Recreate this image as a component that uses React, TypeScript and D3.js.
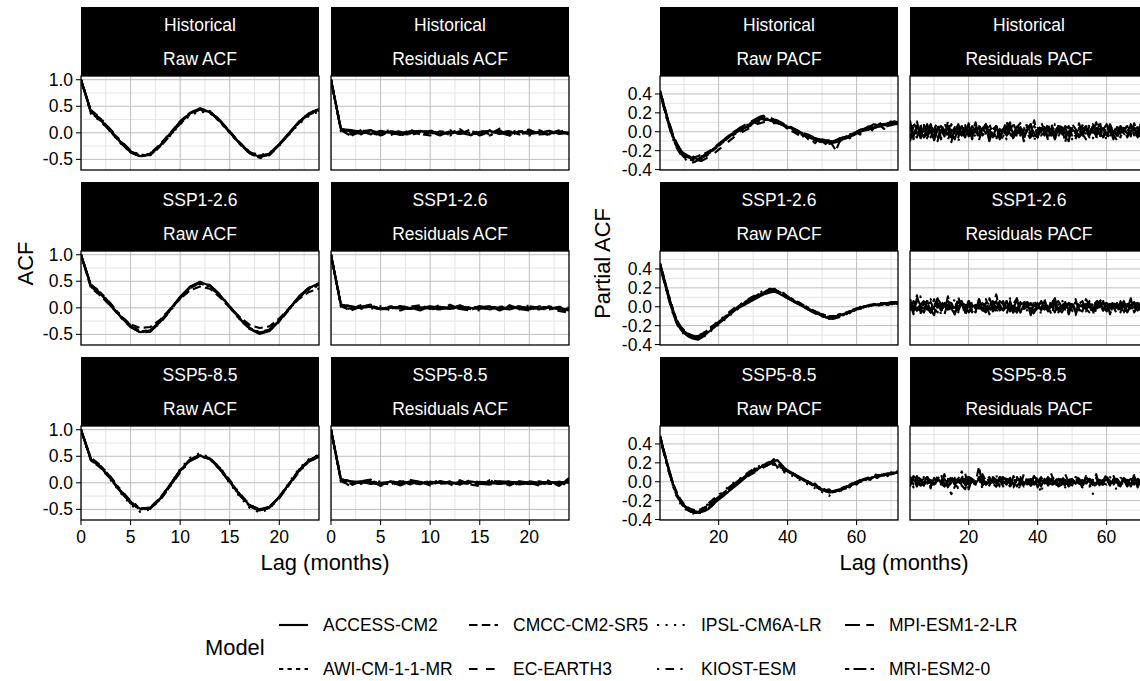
import React from "react";
import * as d3 from "d3";

// ---------- categories ----------
const MODELS = ["ACCESS-CM2", "AWI-CM-1-1-MR", "CMCC-CM2-SR5", "EC-EARTH3", "IPSL-CM6A-LR", "KIOST-ESM", "MPI-ESM1-2-LR", "MRI-ESM2-0"];
const LINETYPES = ["solid", "22", "42", "44", "13", "1343", "73", "2262"];
const SCENARIOS = ["Historical", "SSP1-2.6", "SSP5-8.5"];
const LAGS_ACF = [0, 1, 2, 3, 4, 5, 6, 7, 8, 9, 10, 11, 12, 13, 14, 15, 16, 17, 18, 19, 20, 21, 22, 23, 24];
const LAGS_PACF = [3, 4, 5, 6, 7, 8, 9, 10, 11, 12, 13, 14, 15, 16, 17, 18, 19, 20, 21, 22, 23, 24, 25, 26, 27, 28, 29, 30, 31, 32, 33, 34, 35, 36, 37, 38, 39, 40, 41, 42, 43, 44, 45, 46, 47, 48, 49, 50, 51, 52, 53, 54, 55, 56, 57, 58, 59, 60, 61, 62, 63, 64, 65, 66, 67, 68, 69, 70, 71, 72];
const ACF_X_TICKS = [0, 5, 10, 15, 20];
const ACF_X_MINOR = [2.5, 7.5, 12.5, 17.5, 22.5];
const ACF_Y_TICKS = [-0.5, 0, 0.5, 1];
const ACF_Y_MINOR = [-0.25, 0.25, 0.75];
const PACF_X_TICKS = [20, 40, 60];
const PACF_X_MINOR = [10, 30, 50, 70];
const PACF_Y_TICKS = [-0.4, -0.2, 0, 0.2, 0.4];
const PACF_Y_MINOR = [-0.3, -0.1, 0.1, 0.3, 0.5];

// ---------- values (hundredths), one row per model in MODELS order ----------
const HIST_RAW_ACF = [
  [100,40,24,3,-18,-36,-44,-40,-23,-2,20,37,44,39,22,1,-20,-38,-45,-39,-21,0,21,36,45],
  [100,42,26,5,-16,-34,-43,-41,-25,-4,18,36,43,38,21,0,-21,-39,-46,-40,-22,-1,20,35,44],
  [100,38,22,2,-19,-37,-45,-39,-21,0,22,38,45,40,24,3,-18,-36,-43,-40,-23,-2,19,34,42],
  [100,41,25,4,-17,-35,-43,-41,-24,-3,19,36,44,39,22,1,-20,-37,-45,-41,-23,-1,20,36,44],
  [100,36,21,1,-20,-37,-42,-38,-24,-5,16,33,40,37,21,0,-19,-36,-42,-38,-22,-3,17,32,40],
  [100,43,27,6,-15,-33,-42,-42,-26,-5,17,35,46,41,24,2,-19,-38,-48,-42,-24,-2,21,37,46],
  [100,39,23,3,-18,-36,-45,-40,-22,-1,21,38,46,40,23,2,-19,-37,-46,-40,-22,0,22,37,45],
  [100,40,25,4,-17,-35,-44,-41,-24,-3,19,37,45,40,23,1,-20,-38,-47,-41,-22,-1,21,36,44],
];
const SSP126_RAW_ACF = [
  [100,41,26,5,-17,-36,-46,-43,-26,-3,21,40,48,42,24,2,-20,-39,-47,-42,-24,-1,22,38,46],
  [100,43,28,7,-15,-34,-44,-42,-25,-4,19,38,46,41,23,1,-21,-40,-48,-43,-25,-2,20,36,44],
  [100,38,22,3,-16,-31,-38,-36,-22,-2,17,33,40,36,20,1,-17,-32,-38,-35,-20,-1,17,30,36],
  [100,42,27,6,-16,-35,-45,-43,-26,-3,20,39,47,42,24,2,-20,-39,-47,-42,-24,-2,21,37,45],
  [100,40,25,4,-18,-36,-45,-44,-27,-5,18,37,45,40,22,0,-21,-39,-46,-41,-23,-3,19,34,42],
  [100,44,29,8,-14,-33,-44,-44,-28,-6,18,38,47,43,25,3,-19,-38,-48,-44,-26,-3,20,37,46],
  [100,41,26,5,-17,-36,-47,-45,-27,-4,20,39,49,43,25,2,-21,-40,-49,-44,-25,-2,21,38,47],
  [100,40,25,4,-17,-35,-45,-42,-25,-3,20,38,46,41,23,1,-20,-38,-46,-41,-23,-1,20,36,44],
];
const SSP585_RAW_ACF = [
  [100,44,30,8,-16,-37,-49,-47,-29,-4,23,43,51,45,26,2,-22,-42,-50,-45,-26,-2,24,42,50],
  [100,46,32,10,-14,-35,-48,-48,-31,-6,21,42,50,46,28,4,-21,-42,-51,-47,-28,-3,22,40,49],
  [100,42,28,7,-17,-38,-50,-46,-28,-3,24,44,52,45,25,1,-23,-43,-52,-46,-26,-1,25,43,51],
  [100,45,31,9,-15,-36,-48,-47,-30,-5,22,42,50,45,27,3,-22,-42,-50,-46,-27,-2,23,41,49],
  [100,43,28,5,-19,-41,-55,-50,-30,-3,26,47,56,47,25,-1,-26,-47,-56,-49,-27,1,27,45,53],
  [100,47,33,11,-13,-34,-47,-49,-32,-7,20,41,50,46,29,5,-20,-41,-51,-48,-29,-4,21,40,49],
  [100,43,29,7,-17,-38,-51,-48,-29,-3,24,44,53,46,26,2,-23,-44,-53,-47,-27,-1,24,43,52],
  [100,44,30,8,-16,-37,-49,-47,-29,-4,23,43,51,45,26,2,-22,-42,-51,-46,-26,-2,23,42,50],
];
const HIST_RES_ACF = [
  [100,7,5,2,-2,4,0,-4,2,4,0,-2,2,0,-4,2,4,-2,0,2,-2,0,4,-2,0],
  [100,9,-3,5,0,-5,3,2,-2,0,5,-3,2,-2,3,0,-5,2,3,-2,0,5,-3,2,-2],
  [100,5,-6,3,5,-5,2,-3,6,-2,-5,3,0,7,-6,5,-3,8,-5,2,6,-3,-2,5,-3],
  [100,6,4,-2,4,0,-4,2,0,-2,4,2,-4,0,2,-2,0,4,-2,2,0,-2,4,0,2],
  [100,3,-5,6,-3,2,5,-6,3,0,-3,5,-5,2,3,-6,5,-2,0,6,-5,3,-3,2,5],
  [100,8,2,-3,5,-2,0,3,-5,2,0,-3,5,-2,2,-3,3,0,-5,3,2,-2,0,3,-3],
  [100,7,-2,0,3,-3,5,-2,-3,3,2,-5,3,-2,6,-5,2,5,-6,3,-2,2,-5,3,0],
  [100,6,0,3,-2,2,-2,0,3,-3,2,0,-2,3,0,-2,2,0,3,-3,2,0,-2,2,0],
];
const SSP126_RES_ACF = [
  [100,5,3,0,2,-2,0,2,-2,0,3,0,-2,2,0,-2,2,0,-3,2,0,-2,2,-3,-5],
  [100,7,-2,5,2,-3,0,3,-2,2,-3,0,3,-2,2,0,-3,2,3,-2,0,2,-3,0,-2],
  [100,3,-5,2,6,-3,3,-5,2,5,-2,-3,6,-2,-5,3,2,-3,5,-2,-5,3,0,-6,-9],
  [100,6,2,3,0,-2,3,-2,0,2,0,-2,2,0,-2,3,0,-2,2,0,-3,2,0,-2,-3],
  [100,2,-3,5,-2,3,-5,2,3,-3,0,5,-3,2,-2,-5,3,0,2,-3,5,-2,-3,2,-2],
  [100,8,3,-2,3,0,-2,3,-3,0,2,-2,0,3,-2,2,-3,0,2,-2,3,0,-2,2,0],
  [100,6,-3,2,5,-2,-3,3,0,-5,3,2,-2,5,-3,0,3,-5,2,3,-2,-3,3,-2,-3],
  [100,5,2,0,3,-2,2,0,-2,2,0,-2,3,0,-2,2,0,-2,2,0,-2,2,-2,0,-2],
];
const SSP585_RES_ACF = [
  [100,6,3,2,-2,0,2,-2,3,0,-2,2,0,-2,3,0,2,-2,0,2,-2,0,2,0,3],
  [100,8,-2,3,2,-5,2,3,-3,0,3,-2,2,-3,0,3,-2,2,-3,2,0,-3,2,-2,5],
  [100,3,-5,3,6,-6,3,-3,5,2,-5,3,-2,5,-3,-6,5,2,-5,3,0,-5,3,-6,9],
  [100,7,2,0,3,-2,0,2,-2,2,0,-2,3,0,-2,2,0,-2,2,0,-2,2,0,-2,2],
  [100,2,-6,5,-2,3,-5,2,5,-3,0,5,-5,3,-2,-3,5,-2,3,-5,2,-3,5,-2,-3],
  [100,7,3,-2,2,0,-3,3,0,-2,2,0,-2,3,-2,2,-3,0,2,-2,3,0,-2,2,0],
  [100,5,-2,2,5,-3,2,-5,3,2,-3,3,0,-3,5,-2,-3,3,2,-3,0,3,-2,-3,2],
  [100,6,2,0,2,-2,0,2,0,-2,2,0,-2,2,0,-2,0,2,-2,0,2,-2,0,2,0],
];

const HIST_RAW_PACF = [
  [42,29,16,4,-7,-15,-20,-23,-25,-27,-28,-29,-28,-26,-23,-20,-17,-14,-11,-8,-5,-3,-1,1,3,5,7,9,11,13,14,13,12,11,10,9,7,5,4,2,0,-2,-4,-5,-6,-7,-8,-9,-10,-10,-11,-10,-9,-8,-7,-5,-4,-2,0,1,2,3,4,5,6,7,7,8,8,9],
  [44,31,17,5,-6,-14,-19,-24,-27,-29,-30,-31,-30,-27,-24,-21,-18,-15,-12,-9,-6,-4,-2,0,2,4,6,8,10,12,13,12,13,10,9,8,6,5,2,1,-1,-3,-5,-6,-7,-9,-8,-10,-11,-12,-10,-9,-10,-7,-6,-4,-3,-1,1,2,3,5,4,6,7,8,9,8,10,9],
  [41,28,14,2,-9,-17,-22,-25,-26,-25,-27,-26,-24,-23,-21,-19,-16,-13,-10,-7,-4,-2,0,3,5,7,8,10,12,15,16,14,12,10,9,8,6,3,1,-1,-3,-6,-4,-8,-9,-12,-7,-10,-13,-9,-14,-20,-11,-8,-5,-7,-3,-1,-3,2,5,-1,4,10,6,3,8,11,7,9],
  [43,30,17,6,-5,-13,-19,-23,-26,-28,-29,-30,-31,-29,-27,-25,-22,-19,-16,-13,-10,-7,-4,-2,0,2,4,6,8,9,10,11,10,9,9,8,7,6,4,3,1,0,-2,-3,-5,-6,-7,-8,-9,-9,-10,-9,-8,-7,-5,-4,-3,-1,0,1,2,3,4,5,5,6,6,7,8,8],
  [42,29,15,3,-8,-16,-21,-24,-26,-27,-27,-27,-26,-25,-23,-21,-18,-15,-12,-9,-6,-3,0,2,4,6,8,10,12,13,14,14,13,12,11,9,8,6,4,2,0,-2,-3,-5,-6,-7,-8,-9,-9,-10,-10,-9,-8,-7,-6,-5,-3,-2,0,1,2,3,4,5,6,6,7,7,8,8],
  [40,27,13,1,-10,-18,-24,-28,-31,-33,-32,-30,-28,-25,-22,-20,-17,-14,-11,-8,-5,-2,1,3,5,7,9,11,13,15,16,15,14,12,11,9,7,6,4,1,-1,-3,-5,-6,-8,-9,-10,-11,-12,-11,-10,-9,-7,-6,-4,-3,-1,0,2,3,4,5,6,7,8,8,9,9,10,10],
  [43,30,16,4,-7,-15,-21,-25,-27,-28,-29,-28,-27,-25,-22,-19,-16,-13,-10,-7,-4,-1,1,4,6,8,10,12,14,16,17,16,15,13,12,10,8,6,5,3,1,-1,-3,-5,-7,-8,-10,-11,-12,-13,-12,-11,-10,-8,-6,-4,-2,0,2,3,5,6,8,7,9,10,9,10,11,10],
  [42,29,15,3,-8,-17,-23,-27,-29,-30,-30,-29,-27,-24,-22,-19,-17,-14,-11,-8,-5,-3,-1,1,3,5,6,8,9,11,12,13,12,11,10,9,7,6,4,2,1,-1,-2,-4,-5,-7,-8,-9,-10,-11,-10,-9,-8,-6,-5,-3,-2,0,1,3,4,5,6,7,7,8,8,9,9,9],
];
const SSP126_RAW_PACF = [
  [44,30,16,3,-9,-18,-24,-28,-31,-33,-34,-35,-33,-30,-27,-24,-21,-18,-15,-12,-9,-6,-3,-1,1,3,5,7,9,11,13,14,15,16,15,13,11,9,7,5,3,1,-1,-3,-5,-7,-8,-10,-11,-12,-12,-11,-10,-8,-7,-5,-4,-2,-1,0,1,1,2,2,3,3,3,4,4,4],
  [46,33,19,6,-6,-15,-21,-25,-28,-30,-31,-31,-30,-28,-25,-22,-19,-16,-13,-10,-7,-4,-1,1,3,6,8,10,12,13,15,16,17,18,17,15,13,11,9,7,5,3,1,-1,-3,-5,-7,-8,-9,-10,-10,-9,-8,-7,-6,-5,-3,-2,-1,0,1,2,2,1,2,3,2,3,4,3],
  [45,31,17,4,-8,-17,-23,-27,-29,-30,-31,-30,-29,-27,-24,-21,-19,-16,-13,-11,-8,-5,-2,0,3,5,8,10,11,14,15,17,19,20,16,15,12,11,7,6,3,2,-1,-3,-4,-7,-6,-10,-9,-13,-11,-12,-8,-9,-5,-7,-3,-4,0,-1,2,1,3,2,4,3,2,4,3,5],
  [45,32,18,5,-7,-16,-22,-26,-29,-31,-32,-32,-31,-29,-26,-23,-20,-17,-14,-11,-8,-5,-2,0,2,4,7,9,11,13,15,16,17,19,18,16,14,11,9,7,5,3,1,-1,-3,-5,-7,-9,-10,-11,-12,-11,-10,-8,-7,-5,-4,-3,-1,0,0,1,2,2,3,3,4,3,4,4],
  [44,31,17,4,-8,-17,-23,-27,-30,-32,-33,-34,-33,-31,-28,-25,-22,-19,-16,-13,-10,-7,-4,-1,1,3,5,8,10,12,13,15,16,17,16,14,12,10,8,6,4,2,0,-2,-4,-6,-8,-9,-11,-12,-12,-11,-10,-9,-7,-6,-4,-3,-2,-1,0,1,2,2,3,3,3,4,4,5],
  [43,29,15,2,-10,-19,-25,-29,-31,-32,-32,-31,-29,-27,-24,-21,-18,-15,-12,-9,-6,-3,0,2,4,6,9,11,13,15,17,18,19,18,16,14,12,10,8,6,4,2,0,-2,-4,-6,-8,-9,-10,-11,-12,-12,-11,-9,-8,-6,-5,-3,-2,-1,0,1,1,2,2,3,3,3,2,3],
  [46,33,19,6,-6,-15,-21,-26,-29,-31,-32,-33,-32,-29,-26,-23,-20,-17,-14,-11,-8,-5,-2,1,3,5,7,10,12,14,15,17,18,17,15,13,11,9,7,5,3,1,-1,-3,-5,-7,-8,-10,-11,-12,-13,-12,-11,-9,-7,-6,-4,-3,-1,0,1,2,2,3,3,4,4,5,5,5],
  [45,32,18,5,-7,-16,-22,-26,-28,-30,-31,-31,-30,-28,-26,-23,-20,-17,-14,-11,-8,-5,-3,0,2,4,6,9,11,13,14,15,16,17,16,14,12,10,8,6,4,2,0,-2,-4,-5,-7,-8,-9,-10,-10,-10,-9,-8,-6,-5,-3,-2,-1,0,1,1,2,2,2,3,3,3,3,3],
];
const SSP585_RAW_PACF = [
  [48,34,20,7,-5,-14,-20,-25,-28,-30,-31,-32,-32,-31,-29,-26,-22,-19,-16,-13,-10,-7,-4,-1,2,5,8,10,13,15,17,18,19,21,23,19,15,12,10,8,6,4,2,0,-2,-4,-6,-8,-9,-10,-11,-10,-9,-7,-6,-4,-3,-1,0,2,3,4,5,6,6,7,8,8,9,10],
  [47,33,19,6,-6,-15,-21,-26,-29,-31,-33,-33,-32,-30,-27,-24,-21,-18,-15,-12,-9,-6,-3,0,3,6,8,11,13,15,16,17,18,18,17,15,13,11,9,7,5,3,1,-1,-3,-5,-7,-8,-10,-11,-11,-10,-9,-7,-6,-4,-2,-1,1,2,3,4,5,6,7,7,8,9,9,10],
  [48,35,21,8,-4,-13,-19,-24,-27,-29,-30,-30,-29,-27,-25,-22,-19,-16,-14,-10,-8,-4,-2,1,3,6,8,11,12,15,16,19,17,20,16,15,11,12,8,7,4,5,1,0,-3,-2,-6,-5,-9,-8,-11,-9,-8,-10,-5,-6,-2,-3,1,0,3,2,6,4,7,9,6,10,8,12],
  [49,35,21,8,-4,-13,-20,-25,-29,-31,-32,-33,-33,-31,-28,-25,-22,-19,-16,-13,-10,-7,-4,-1,2,4,7,9,11,13,15,17,19,20,19,17,14,12,10,8,6,4,2,0,-2,-4,-6,-8,-9,-11,-12,-11,-10,-8,-7,-5,-3,-2,0,1,3,4,5,6,7,8,8,9,10,11],
  [47,32,18,5,-7,-17,-24,-28,-31,-33,-34,-32,-30,-27,-23,-20,-17,-14,-11,-8,-5,-2,0,3,5,8,10,13,15,16,18,17,19,16,15,13,10,9,7,5,3,1,-1,-3,-5,-7,-9,-11,-13,-15,-12,-10,-8,-6,-5,-3,-1,0,2,3,4,5,7,8,9,8,10,9,11,12],
  [46,32,18,5,-7,-16,-22,-27,-30,-32,-32,-31,-29,-26,-23,-20,-17,-14,-12,-9,-6,-3,0,2,5,8,11,13,15,17,19,20,21,22,20,17,14,12,9,7,5,3,1,-1,-3,-5,-7,-9,-10,-11,-11,-10,-8,-7,-5,-4,-2,-1,1,2,3,4,5,6,7,8,8,9,9,10],
  [48,34,20,7,-5,-14,-21,-26,-29,-31,-32,-32,-31,-29,-26,-23,-20,-17,-14,-11,-8,-5,-2,1,4,7,10,12,14,16,18,19,20,24,20,16,13,11,9,7,5,3,1,-1,-3,-5,-7,-9,-10,-11,-12,-10,-9,-7,-5,-4,-2,0,1,3,4,5,6,7,7,8,9,9,10,10],
  [47,33,19,6,-6,-15,-22,-27,-30,-32,-33,-32,-30,-28,-25,-22,-19,-16,-13,-10,-7,-4,-1,2,4,7,9,11,13,15,17,18,19,19,18,16,13,11,9,7,5,3,1,-1,-3,-5,-7,-8,-9,-10,-10,-9,-8,-6,-5,-3,-2,0,1,2,3,4,5,6,7,7,8,8,9,9],
];
const HIST_RES_PACF = [
  [8,-4,6,2,-6,4,0,-8,2,6,-2,4,-6,0,8,-4,2,-2,6,0,-4,4,-2,2,-6,4,0,2,-4,6,-2,0,4,-4,2,6,-2,-6,4,0,2,-4,0,6,-2,4,-4,2,0,-6,4,2,-2,6,-4,0,4,-2,2,0,-4,6,2,-2,0,4,-2,2,-4,4],
  [-6,10,2,-8,4,-2,6,0,-10,4,2,-4,8,-2,-6,6,0,4,-8,2,6,-4,0,8,-2,-6,4,2,-4,0,10,-6,2,4,-2,-8,6,0,2,-4,4,8,-6,0,2,-2,6,-4,-8,4,0,2,-6,8,-2,4,0,-4,6,2,-2,-6,4,0,8,-4,2,-2,4,0],
  [12,-8,3,9,-6,-2,8,-9,5,2,-5,11,-3,-8,6,0,-6,9,-2,5,-9,3,8,-5,0,6,-8,2,11,-3,-6,5,9,-8,3,-2,12,-6,0,5,-9,8,-3,2,6,-11,5,3,-5,9,-2,-8,6,3,-5,11,-6,0,8,-3,-9,5,2,6,-5,9,-2,-6,3,5],
  [-8,-2,4,-6,0,6,-4,2,-10,0,4,-2,-6,2,0,-4,6,-8,2,-2,4,-6,0,2,-4,-8,2,6,-2,0,-6,4,-4,2,8,-2,-6,0,4,-4,2,-2,-8,4,0,6,-4,2,-2,-6,0,4,-4,2,6,-2,0,-6,2,4,-4,0,2,-6,4,-2,0,4,-4,2],
  [4,10,-5,0,7,-8,3,5,-2,-7,8,2,-3,5,-10,3,7,-2,0,-5,8,-3,2,10,-7,0,3,-5,7,2,-8,5,0,-3,10,-2,-10,7,2,-3,5,-7,8,0,-5,3,7,-8,2,5,-3,0,8,-7,3,-2,5,-10,2,7,-3,0,5,-5,8,2,-7,3,0,5],
  [5,-5,8,-3,2,-7,7,3,-5,0,10,-3,2,-8,5,3,-2,7,-5,0,-3,8,2,-7,3,5,-3,0,-8,7,2,-2,5,-5,3,8,-7,2,0,5,-3,-2,7,-5,3,0,-8,5,2,-3,7,-2,0,5,-7,3,2,-3,8,-2,-5,3,0,7,-3,2,5,-5,0,3],
  [-10,6,11,-5,-2,8,-6,3,10,-8,0,5,-11,6,2,-3,8,-5,-2,10,-6,3,5,-10,2,6,-3,-8,5,10,-5,-2,6,-10,3,8,-3,-6,10,2,-5,3,-8,6,5,-2,-10,8,3,-5,2,6,-6,0,10,-3,-5,6,2,-8,5,3,-2,-6,8,0,-3,10,-5,2],
  [2,-2,-6,4,8,-4,0,6,-6,2,4,-8,0,4,-2,6,-4,2,-6,4,0,-2,8,-4,2,6,-6,0,4,-2,-4,8,-2,0,6,-6,2,4,-4,0,8,-2,-4,6,2,-6,0,4,-2,2,-4,6,0,-2,4,-6,2,8,-4,0,2,-2,6,-4,0,4,-6,2,4,-2],
];
const SSP126_RES_PACF = [
  [4,0,-4,2,6,-2,-6,0,4,-4,2,6,-2,0,-4,4,2,-6,0,2,-2,4,-4,0,6,-2,2,-4,0,4,-2,-6,2,4,0,-4,2,-2,6,0,-4,2,4,-2,-6,0,4,2,-4,0,2,-2,4,-4,0,6,-2,-4,2,0,4,-2,0,-6,2,4,-2,0,-4,2],
  [-4,6,2,-8,4,0,-6,8,-2,2,6,-4,0,-8,4,2,-2,6,-6,0,4,-4,8,-2,-6,2,0,4,-4,6,-8,2,4,-2,0,-6,6,2,-4,4,0,-8,2,6,-2,4,-6,0,8,-4,2,-2,-6,4,0,6,-4,2,-8,4,0,-2,6,-4,2,0,-6,4,-2,0],
  [8,-4,12,-5,3,6,-6,1,9,-3,-8,5,4,-4,10,-1,-5,6,0,-6,8,-3,4,-8,1,13,-4,-1,6,-5,3,9,-6,0,5,-3,-8,4,6,-1,-5,8,3,-6,4,-1,5,-4,-9,3,6,-3,1,-5,8,0,-4,5,-8,3,4,-3,6,-5,1,-1,4,-6,0,-4],
  [0,-5,3,-2,-6,2,5,-3,0,3,-5,2,-2,5,-3,0,-6,3,2,-2,0,5,-5,-2,3,0,-3,2,6,-5,0,-2,3,-3,2,5,-6,0,2,-3,3,-2,-5,2,0,3,-3,-2,5,0,-5,2,3,-3,-2,0,5,-5,2,-2,0,3,-6,2,-3,5,-2,-3,-7,-10],
  [8,-3,5,11,-6,2,-5,8,3,-8,5,0,-3,9,-6,3,2,-8,6,-2,5,-5,0,8,-3,-6,5,2,-5,9,0,-6,3,8,-5,2,-2,6,-8,3,0,5,-6,2,8,-3,-2,5,-8,3,6,-5,0,3,-6,8,2,-3,5,-5,0,6,-8,3,2,-2,5,-6,3,-3],
  [-2,6,-5,3,0,-3,8,-2,-6,5,2,-3,3,-5,6,0,-2,3,-6,5,2,-3,0,5,-5,3,-2,6,-3,0,2,-5,5,-2,3,-6,2,0,5,-3,-2,3,-5,6,0,-3,2,5,-6,2,-3,3,0,-5,5,-2,3,-3,0,6,-5,2,-2,3,-3,0,5,-2,-5,3],
  [5,-8,9,2,-6,6,-3,-9,8,3,-5,11,-2,-8,5,6,-9,3,2,-5,8,-3,-6,9,0,-5,6,3,-8,5,-2,8,-6,2,5,-9,6,0,-3,8,-5,2,9,-6,-2,5,-8,3,6,-3,-5,8,2,-9,5,-2,6,-5,3,0,-8,5,2,-3,9,-6,0,5,-5,-8],
  [2,4,-4,0,-2,6,-6,2,0,-4,4,-2,2,-6,0,4,-2,6,-4,0,2,-4,4,-2,0,6,-4,-2,2,0,-6,4,2,-2,0,4,-4,2,-2,6,-4,0,2,-6,4,0,-2,4,-4,2,0,-2,6,-4,0,2,-4,4,-2,0,2,-6,4,0,-2,2,-4,0,4,-2],
];
const SSP585_RES_PACF = [
  [5,2,-2,3,-3,0,2,-2,3,0,-5,2,3,-2,0,3,-3,2,0,-2,3,2,-3,0,2,-2,5,-2,0,2,-3,3,0,-2,2,3,-3,0,2,-2,0,3,-2,2,0,-3,2,3,-2,0,2,-2,3,0,-3,2,0,3,-2,2,0,-3,2,0,3,-2,0,2,-2,2],
  [-3,3,0,-5,2,5,-2,-3,3,0,2,-6,-13,-5,3,11,-3,0,2,-2,5,-3,0,3,-2,2,-5,3,0,2,-3,5,-2,0,3,-5,2,0,-2,3,2,-3,0,5,-2,-3,2,0,3,-2,-5,2,3,0,-2,2,-3,5,0,-2,3,-3,2,0,-2,3,0,-3,2,0],
  [5,-3,6,-1,-4,4,1,-5,3,8,-4,0,5,-3,-6,4,9,-8,3,-1,16,-4,1,5,-3,-5,6,0,-1,4,-6,3,5,-3,0,-4,6,1,-5,4,-1,8,-3,-4,5,1,-6,3,4,-1,-5,6,0,-3,4,-4,1,8,-5,3,0,-3,5,-4,1,6,-3,-1,4,-5],
  [-2,5,-3,0,3,-2,-5,2,0,3,-3,2,5,-2,0,-3,3,-5,2,0,3,-2,0,-3,5,2,-2,0,-3,3,2,-5,0,3,-2,2,-3,0,5,-2,0,2,-3,3,-2,0,5,-3,2,0,-2,3,-5,2,0,3,-2,-3,2,0,3,-2,2,-5,0,3,-2,2,0,-2],
  [4,-6,7,2,-4,3,-7,6,0,-3,8,-4,2,4,-8,3,-2,6,-6,0,4,-7,3,2,-4,7,-3,0,6,-6,3,-2,-8,4,2,-4,7,0,-12,3,6,-4,2,-3,7,-6,0,4,-3,3,-7,6,-2,-13,4,2,-4,7,-3,0,-10,4,3,-6,2,7,-4,0,3,-3],
  [0,3,-5,2,5,-2,0,-3,6,-2,-5,3,2,-3,5,0,-6,3,2,-2,0,5,-3,2,-2,-5,3,0,5,-3,2,-2,3,-5,0,6,-2,2,-3,0,5,-2,-3,3,2,-5,0,3,-2,5,-3,0,2,-2,3,-5,2,0,5,-3,2,-2,0,3,-5,2,3,-2,0,2],
  [-5,6,3,-4,-1,5,-6,4,1,-3,8,-5,-1,4,6,-4,-8,5,3,-3,-5,8,1,-4,4,-6,3,5,-1,-5,6,0,-4,8,-3,-1,5,-6,3,4,-4,1,6,-5,-3,8,-1,-4,5,3,-6,4,0,-3,8,-5,1,3,-4,6,-1,-5,4,1,-3,5,-6,3,0,-4],
  [3,-2,2,-3,0,5,-2,-3,2,0,3,-5,2,0,-2,3,0,-3,5,-2,2,0,-3,3,-2,0,2,-5,3,0,-2,2,3,-3,0,2,-2,5,-3,0,2,-2,-3,3,0,2,-5,2,0,3,-2,0,-3,2,5,-2,0,-3,2,0,3,-2,-2,2,0,-3,3,0,-2,2],
];

// ---------- layout / style ----------
const W = 1140, H = 681;
const FONT = "'Liberation Sans', Arial, Helvetica, sans-serif";
const SMALL = 17.5, BIG = 21.9;
const PW = 238, PH = 94, STRIP = 69;
const ROW_TOP = [7, 182, 357];
const LWD = 2.13;
const dash = (lt: string) => lt === "solid" ? undefined : lt.split("").map(c => parseInt(c, 16) * LWD).join(" ");
const fmt = (v: number) => v.toFixed(1);

const GROUPS = [
  {
    id: "acf", lefts: [81, 331], xDomain: [0, 24], yDomain: [-0.7, 1.07],
    xTicks: ACF_X_TICKS, xMinor: ACF_X_MINOR, yTicks: ACF_Y_TICKS, yMinor: ACF_Y_MINOR,
    lags: LAGS_ACF, names: ["Raw ACF", "Residuals ACF"],
    data: [[HIST_RAW_ACF, SSP126_RAW_ACF, SSP585_RAW_ACF], [HIST_RES_ACF, SSP126_RES_ACF, SSP585_RES_ACF]],
    yTitle: "ACF", yTitleX: 25,
  },
  {
    id: "pacf", lefts: [660, 910], xDomain: [3, 72], yDomain: [-0.405, 0.59],
    xTicks: PACF_X_TICKS, xMinor: PACF_X_MINOR, yTicks: PACF_Y_TICKS, yMinor: PACF_Y_MINOR,
    lags: LAGS_PACF, names: ["Raw PACF", "Residuals PACF"],
    data: [[HIST_RAW_PACF, SSP126_RAW_PACF, SSP585_RAW_PACF], [HIST_RES_PACF, SSP126_RES_PACF, SSP585_RES_PACF]],
    yTitle: "Partial ACF", yTitleX: 602,
  },
];

const LEGEND_KEY_X = [279, 469, 657, 845];
const LEGEND_ROW_Y = [625, 669];
const KEY_LEN = 29;

function Panel({ g, col, row }: any) {
  const x0 = g.lefts[col];
  const stripTop = ROW_TOP[row];
  const top = stripTop + STRIP;
  const x = d3.scaleLinear().domain(g.xDomain).range([x0, x0 + PW]);
  const y = d3.scaleLinear().domain(g.yDomain).range([top + PH, top]);
  const series: number[][] = g.data[col][row];
  const line = d3.line<number>().x((_, i) => x(g.lags[i])).y(v => y(v / 100));
  const clipId = `clip-${g.id}-${col}-${row}`;
  const bottomRow = row === 2;
  return (
    <g>
      <defs>
        <clipPath id={clipId}><rect x={x0} y={top} width={PW} height={PH} /></clipPath>
      </defs>
      <rect x={x0} y={stripTop} width={PW} height={STRIP} fill="#000" />
      <text x={x0 + PW / 2} y={stripTop + 18} fill="#fff" fontSize={SMALL} textAnchor="middle" dominantBaseline="central">{SCENARIOS[row]}</text>
      <text x={x0 + PW / 2} y={stripTop + 52} fill="#fff" fontSize={SMALL} textAnchor="middle" dominantBaseline="central">{g.names[col]}</text>
      <rect x={x0} y={top} width={PW} height={PH} fill="#fff" />
      <g clipPath={`url(#${clipId})`}>
        {g.yMinor.map((t: number) => <line key={"ym" + t} x1={x0} x2={x0 + PW} y1={y(t)} y2={y(t)} stroke="#e4e4e4" strokeWidth={1} />)}
        {g.xMinor.map((t: number) => <line key={"xm" + t} x1={x(t)} x2={x(t)} y1={top} y2={top + PH} stroke="#e4e4e4" strokeWidth={1} />)}
        {g.yTicks.map((t: number) => <line key={"yM" + t} x1={x0} x2={x0 + PW} y1={y(t)} y2={y(t)} stroke="#bdbdbd" strokeWidth={1} />)}
        {g.xTicks.map((t: number) => <line key={"xM" + t} x1={x(t)} x2={x(t)} y1={top} y2={top + PH} stroke="#bdbdbd" strokeWidth={1} />)}
        {series.map((s, i) => (
          <path key={MODELS[i]} d={line(s) || ""} fill="none" stroke="#000" strokeWidth={LWD} strokeDasharray={dash(LINETYPES[i])} strokeLinejoin="round" />
        ))}
      </g>
      <rect x={x0} y={top} width={PW} height={PH} fill="none" stroke="#000" strokeWidth={1.3} />
      {col === 0 && g.yTicks.map((t: number) => (
        <g key={"yt" + t}>
          <line x1={x0 - 5} x2={x0} y1={y(t)} y2={y(t)} stroke="#000" strokeWidth={1.07} />
          <text x={x0 - 8} y={y(t)} fontSize={SMALL} textAnchor="end" dominantBaseline="central" fill="#000">{fmt(t)}</text>
        </g>
      ))}
      {bottomRow && g.xTicks.map((t: number) => (
        <g key={"xt" + t}>
          <line x1={x(t)} x2={x(t)} y1={top + PH} y2={top + PH + 5} stroke="#000" strokeWidth={1.07} />
          <text x={x(t)} y={top + PH + 17} fontSize={SMALL} textAnchor="middle" dominantBaseline="central" fill="#000">{t}</text>
        </g>
      ))}
    </g>
  );
}

export default function App() {
  return (
    <svg width={W} height={H} style={{ position: "absolute", left: 0, top: 0, background: "#fff" }} fontFamily={FONT}>
      <rect x={0} y={0} width={W} height={H} fill="#fff" />
      {GROUPS.map(g => (
        <g key={g.id}>
          {[0, 1].map(col => [0, 1, 2].map(row => <Panel key={`${col}-${row}`} g={g} col={col} row={row} />))}
          <text transform={`translate(${g.yTitleX},${(ROW_TOP[0] + ROW_TOP[2] + STRIP + PH) / 2}) rotate(-90)`} fontSize={BIG} textAnchor="middle" dominantBaseline="central" fill="#000">{g.yTitle}</text>
          <text x={(g.lefts[0] + g.lefts[1] + PW) / 2} y={562} fontSize={BIG} textAnchor="middle" dominantBaseline="central" fill="#000">Lag (months)</text>
        </g>
      ))}
      <text x={205} y={647} fontSize={BIG} dominantBaseline="central" fill="#000">Model</text>
      {MODELS.map((m, i) => {
        const c = Math.floor(i / 2), r = i % 2;
        const kx = LEGEND_KEY_X[c], ky = LEGEND_ROW_Y[r];
        return (
          <g key={m}>
            <line x1={kx} x2={kx + KEY_LEN} y1={ky} y2={ky} stroke="#000" strokeWidth={LWD} strokeDasharray={dash(LINETYPES[i])} />
            <text x={kx + KEY_LEN + 15} y={ky} fontSize={SMALL} dominantBaseline="central" fill="#000">{m}</text>
          </g>
        );
      })}
    </svg>
  );
}
